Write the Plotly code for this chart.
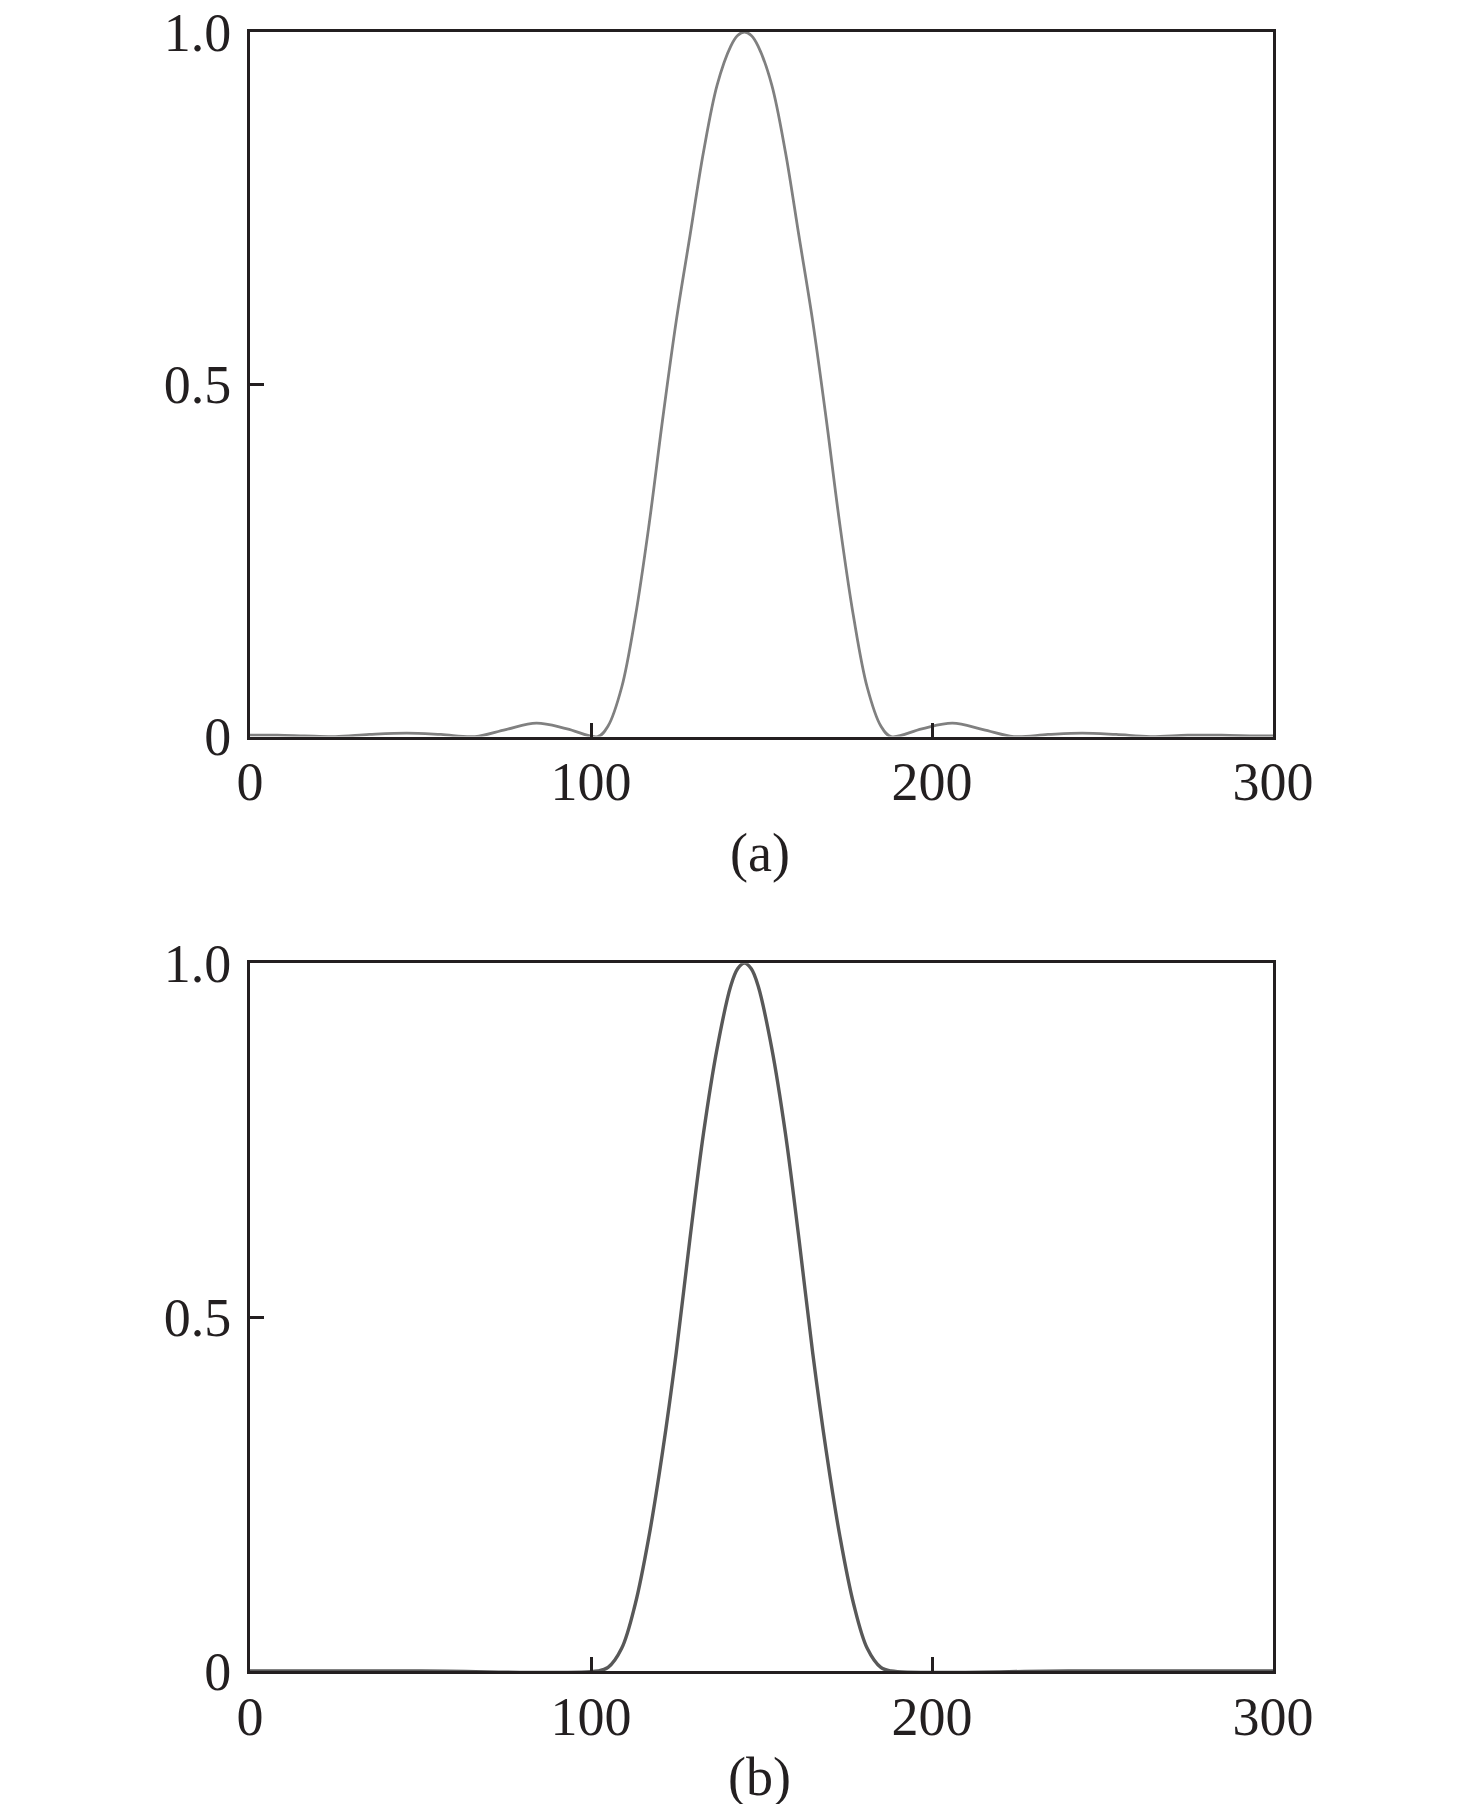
import plotly.graph_objects as go

# ---- data ----
xa = [0, 8, 16, 25, 35, 46, 56, 66, 75, 84, 93,
      102, 105, 109, 113, 117, 121, 125, 129, 133, 137, 141, 143,
      145,
      147, 149, 153, 157, 161, 165, 169, 173, 177, 181, 185, 188,
      197, 206, 215, 224, 234, 244, 254, 264, 275, 285, 295, 300]
ya = [0.002, 0.002, 0.001, 0.0, 0.003, 0.005, 0.003, 0.0, 0.010, 0.019, 0.011,
      0.0, 0.015, 0.07, 0.17, 0.30, 0.45, 0.59, 0.71, 0.83, 0.925, 0.98, 0.995,
      1.0,
      0.995, 0.98, 0.925, 0.83, 0.71, 0.59, 0.45, 0.30, 0.17, 0.07, 0.015, 0.0,
      0.011, 0.019, 0.010, 0.0, 0.003, 0.005, 0.003, 0.0, 0.002, 0.002, 0.001, 0.001]

xb = [0, 50, 102, 105, 109, 113, 117, 121, 125, 129, 133, 137, 141, 143,
      145,
      147, 149, 153, 157, 161, 165, 169, 173, 177, 181, 185, 188, 240, 300]
yb = [0.0, 0.0, 0.0, 0.005, 0.032, 0.095, 0.19, 0.31, 0.45, 0.61, 0.76, 0.88, 0.968, 0.992,
      1.0,
      0.992, 0.968, 0.88, 0.76, 0.61, 0.45, 0.31, 0.19, 0.095, 0.032, 0.005, 0.0, 0.0, 0.0]

x_ticks = [0, 100, 200, 300]
x_labels = ["0", "100", "200", "300"]
y_ticks = [0, 0.5, 1.0]
y_labels = ["0", "0.5", "1.0"]
panel_labels = ["(a)", "(b)"]

# page has an 8px body margin, so the figure is placed 8px in from the window edge
W, H = 1460, 1796
L, R = 242, 1265.5
T, B = 24, 1663.3
a_bot, b_top = 728.7, 955.3
ph = B - T

ink = "#231f20"
font = dict(family="Liberation Serif, Times New Roman, serif", size=54, color=ink)

fig = go.Figure()
fig.add_trace(go.Scatter(x=xa, y=ya, mode="lines",
                         line=dict(color="#808080", width=2.8, shape="spline", smoothing=1.0),
                         xaxis="x", yaxis="y", showlegend=False))
fig.add_trace(go.Scatter(x=xb, y=yb, mode="lines",
                         line=dict(color="#585858", width=3.4, shape="spline", smoothing=1.0),
                         xaxis="x2", yaxis="y2", showlegend=False))

axis_common = dict(showline=True, linecolor=ink, linewidth=3, mirror=True, ticks="inside",
                   ticklen=14, tickwidth=3, tickcolor=ink, showgrid=False, zeroline=False,
                   tickfont=font, automargin=False, ticklabeloverflow="allow")
xcommon = dict(axis_common, range=[0, 300], tickmode="array", tickvals=x_ticks, ticktext=x_labels,
               ticklabelstandoff=-4)
ycommon = dict(axis_common, range=[0, 1], tickmode="array", tickvals=y_ticks, ticktext=y_labels,
               ticklabelstandoff=5)

fig.update_layout(
    width=W, height=H,
    margin=dict(l=L, r=W - R, t=T, b=H - B, pad=0, autoexpand=False),
    paper_bgcolor="white", plot_bgcolor="white",
    xaxis=dict(xcommon, domain=[0, 1], anchor="y"),
    yaxis=dict(ycommon, domain=[(B - a_bot) / ph, 1], anchor="x"),
    xaxis2=dict(xcommon, domain=[0, 1], anchor="y2"),
    yaxis2=dict(ycommon, domain=[0, (B - b_top) / ph], anchor="x2"),
    font=font,
)

for lab, ypx in zip(panel_labels, [845, 1769]):
    fig.add_annotation(text=lab, xref="paper", yref="paper", x=(752 - L) / (R - L), y=(B - ypx) / ph,
                       xanchor="center", yanchor="middle", showarrow=False, font=font)

fig.write_html("out.html")
